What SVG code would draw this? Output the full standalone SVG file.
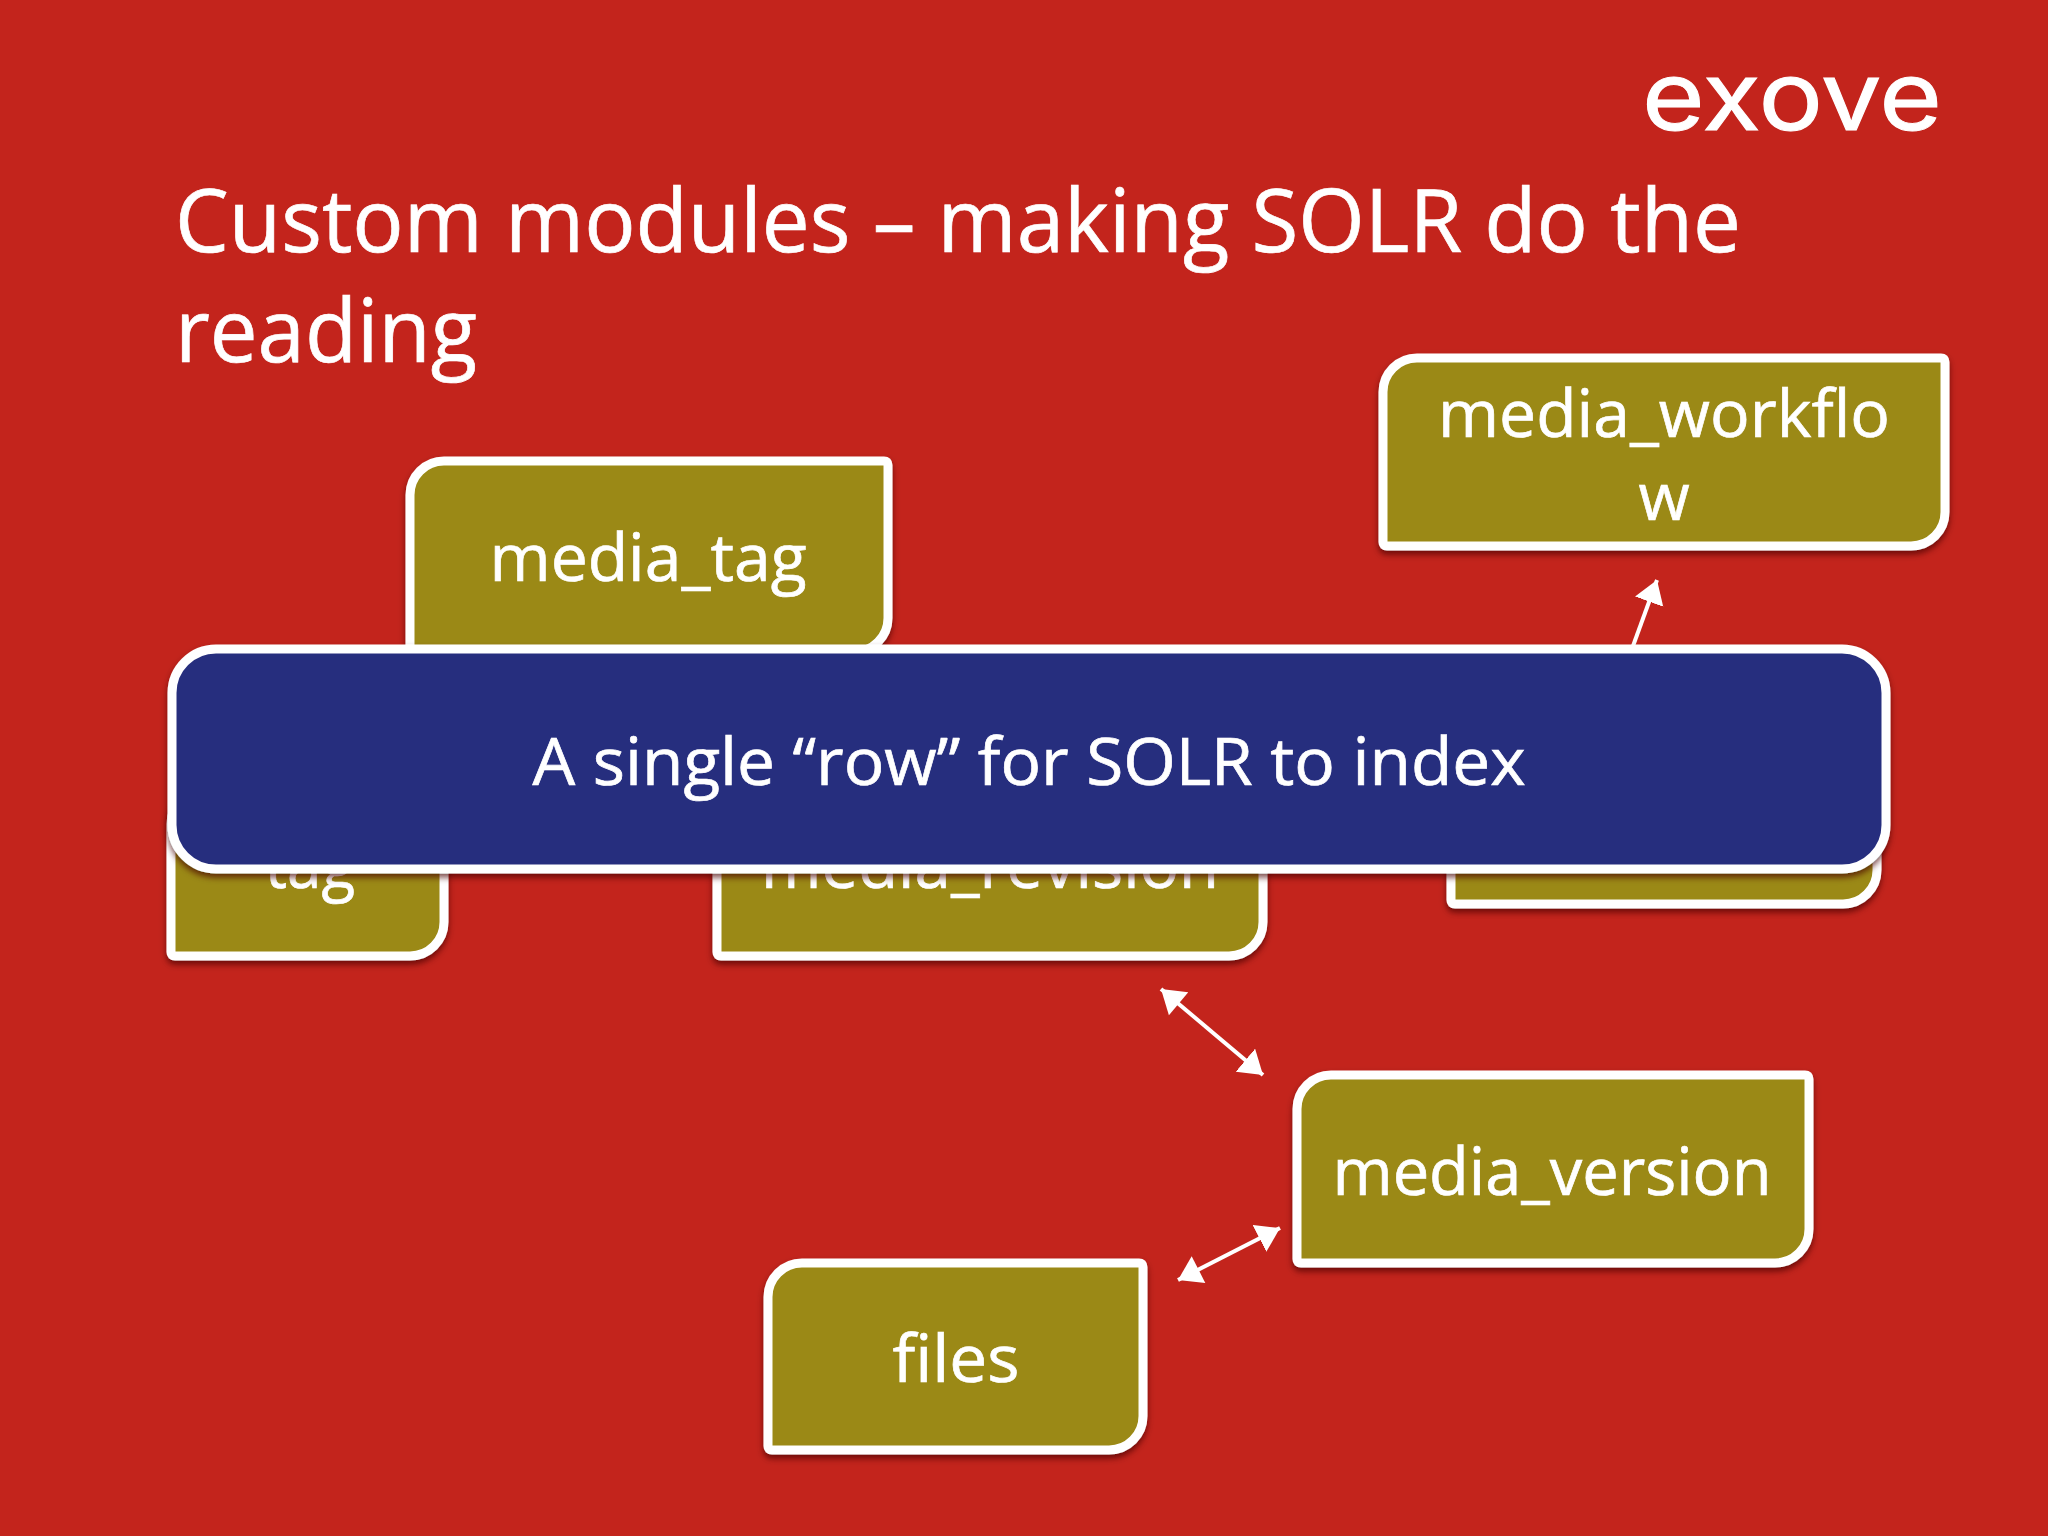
<svg xmlns="http://www.w3.org/2000/svg" width="2048" height="1536" viewBox="0 0 2048 1536">
<style>
text{font-family:"Open Sans","Noto Sans","Liberation Sans",sans-serif;fill:#fff;stroke:#fff;stroke-width:.7;text-anchor:middle}
.n{fill:#9b8912;stroke:#fff;stroke-width:9;stroke-linejoin:round;filter:url(#sh)}
.t{font-size:66px}
.title{font-size:88px;text-anchor:start}
.c{fill:none;stroke:#fff;stroke-width:4;marker-end:url(#a)}
.d{marker-start:url(#b)}
</style>
<defs>
<filter id="sh" x="-5%" y="-5%" width="110%" height="115%"><feDropShadow dx="0" dy="4" stdDeviation="3" flood-color="#400" flood-opacity=".7"/></filter>
<marker id="a" markerUnits="userSpaceOnUse" markerWidth="26" markerHeight="32" refX="23" refY="15" orient="auto"><path d="M0 0L23 15L0 30Z" fill="#fff"/></marker>
<marker id="b" markerUnits="userSpaceOnUse" markerWidth="26" markerHeight="32" refX="0" refY="15" orient="auto"><path d="M23 0L0 15L23 30Z" fill="#fff"/></marker>
</defs>
<rect width="2048" height="1536" fill="#c3241c"/>
<text id="logo" x="1792" y="130" font-size="96" textLength="300" lengthAdjust="spacingAndGlyphs" style="font-family:Inter,'Open Sans',sans-serif;font-weight:400;stroke-width:1">exove</text>
<g id="title">
<text class="title" x="175" y="252" textLength="1566" lengthAdjust="spacingAndGlyphs">Custom modules – making SOLR do the</text>
<text class="title" x="175" y="362" textLength="302" lengthAdjust="spacingAndGlyphs">reading</text>
</g>
<g id="connectors">
<path class="c" d="M1625 668L1657 580"/>
<path class="c d" d="M1161 989L1263 1075"/>
<path class="c d" d="M1178 1280L1280 1228"/>
</g>
<g id="node-media-workflow">
<path class="n" d="M1417 358H1941Q1945 358 1945 362V512A34 34 0 0 1 1911 546H1387Q1383 546 1383 542V392A34 34 0 0 1 1417 358Z"/>
<text class="t" x="1664" y="437" textLength="452" lengthAdjust="spacingAndGlyphs">media_workflo</text>
<text class="t" x="1664" y="520">w</text>
</g>
<g id="node-media-tag">
<path class="n" d="M444 461H884Q888 461 888 465V618A34 34 0 0 1 854 652H414Q410 652 410 648V495A34 34 0 0 1 444 461Z"/>
<text class="t" x="648" y="581" textLength="317" lengthAdjust="spacingAndGlyphs">media_tag</text>
</g>
<g id="node-tag">
<path class="n" d="M205 790H444V922A34 34 0 0 1 410 956H175Q171 956 171 952V824A34 34 0 0 1 205 790Z"/>
<text class="t" x="310" y="888" textLength="90" lengthAdjust="spacingAndGlyphs">tag</text>
</g>
<g id="node-media-revision">
<path class="n" d="M751 760H1263V922A34 34 0 0 1 1229 956H721Q717 956 717 952V794A34 34 0 0 1 751 760Z"/>
<text class="t" x="990" y="888" textLength="458" lengthAdjust="spacingAndGlyphs">media_revision</text>
</g>
<g id="node-hidden">
<path class="n" d="M1485 760H1877V870A34 34 0 0 1 1843 904H1455Q1451 904 1451 900V794A34 34 0 0 1 1485 760Z"/>
</g>
<g id="node-media-version">
<path class="n" d="M1331 1075H1805Q1809 1075 1809 1079V1229A34 34 0 0 1 1775 1263H1301Q1297 1263 1297 1259V1109A34 34 0 0 1 1331 1075Z"/>
<text class="t" x="1552" y="1195" textLength="439" lengthAdjust="spacingAndGlyphs">media_version</text>
</g>
<g id="node-files">
<path class="n" d="M802 1263H1139Q1143 1263 1143 1267V1416A34 34 0 0 1 1109 1450H772Q768 1450 768 1446V1297A34 34 0 0 1 802 1263Z"/>
<text class="t" x="956" y="1382" textLength="127" lengthAdjust="spacingAndGlyphs">files</text>
</g>
<g id="node-row">
<rect x="172" y="649" width="1714" height="220" rx="44" fill="#282f7e" stroke="#fff" stroke-width="9" filter="url(#sh)"/>
<text class="t" x="1029" y="785" textLength="993" lengthAdjust="spacingAndGlyphs">A single “row” for SOLR to index</text>
</g>
</svg>
